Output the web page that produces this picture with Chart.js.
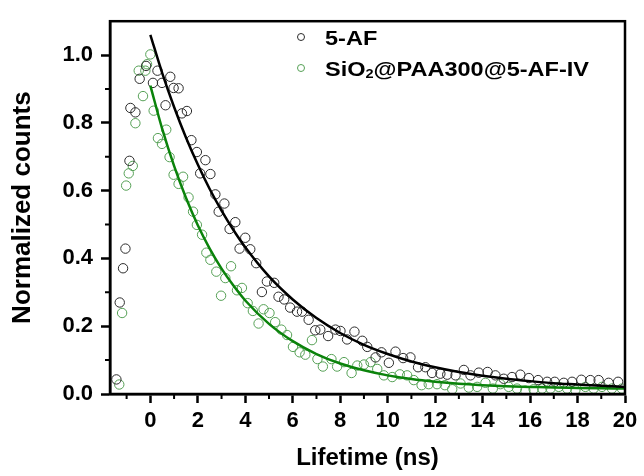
<!DOCTYPE html>
<html>
<head>
<meta charset="utf-8">
<script src="https://cdn.jsdelivr.net/npm/chart.js@4.4.0/dist/chart.umd.min.js"></script>
<style>
  html, body { margin: 0; padding: 0; background: #fff; }
  #wrap { width: 644px; height: 476px; position: relative; }
</style>
</head>
<body>
<div id="wrap"><canvas id="chart"></canvas></div>
<script>
// --- Data ---
const afX = [-1.43, -1.29, -1.15, -1.05, -0.88, -0.84, -0.63, -0.45, -0.18, 0.11, 0.30, 0.49, 0.64, 0.84, 0.98, 1.19, 1.33, 1.54, 1.73, 1.96,
  2.10, 2.32, 2.53, 2.74, 2.88, 3.12, 3.34, 3.58, 3.76, 4.00, 4.21, 4.46, 4.70, 4.91, 5.22, 5.40, 5.64, 5.89, 6.18, 6.39,
  6.67, 6.95, 7.16, 7.49, 7.80, 8.01, 8.29, 8.60, 8.93, 9.14, 9.49, 9.74, 10.05, 10.33, 10.65, 10.96, 11.28, 11.59, 11.87, 12.22,
  12.51, 12.86, 13.21, 13.49, 13.84, 14.21, 14.54, 14.89, 15.24, 15.59, 15.95, 16.34, 16.72, 17.04, 17.42, 17.77, 18.16, 18.54, 18.89, 19.31, 19.71];
const afY = [0.043, 0.270, 0.371, 0.429, 0.688, 0.844, 0.831, 0.930, 0.968, 0.918, 0.954, 0.918, 0.852, 0.936, 0.903, 0.902, 0.828, 0.835, 0.749, 0.714,
  0.651, 0.690, 0.649, 0.589, 0.538, 0.562, 0.487, 0.507, 0.429, 0.461, 0.427, 0.386, 0.301, 0.332, 0.328, 0.287, 0.279, 0.255, 0.243, 0.243,
  0.219, 0.188, 0.190, 0.171, 0.190, 0.186, 0.161, 0.184, 0.157, 0.139, 0.108, 0.123, 0.092, 0.125, 0.106, 0.108, 0.079, 0.079, 0.062, 0.060,
  0.057, 0.055, 0.071, 0.055, 0.063, 0.065, 0.055, 0.045, 0.050, 0.057, 0.047, 0.041, 0.036, 0.036, 0.033, 0.036, 0.042, 0.041, 0.041, 0.033, 0.036];

const siX = [-1.31, -1.19, -1.02, -0.91, -0.74, -0.63, -0.49, -0.31, -0.21, -0.14, 0.00, 0.14, 0.32, 0.49, 0.67, 0.81, 0.98, 1.19, 1.38, 1.61,
  1.80, 1.96, 2.18, 2.36, 2.53, 2.78, 2.98, 3.16, 3.40, 3.65, 3.86, 4.10, 4.32, 4.56, 4.77, 5.02, 5.26, 5.52, 5.76, 6.01,
  6.29, 6.53, 6.81, 7.04, 7.27, 7.63, 7.87, 8.16, 8.48, 8.72, 9.00, 9.28, 9.56, 9.84, 10.19, 10.51, 10.82, 11.10, 11.43, 11.73,
  12.08, 12.41, 12.72, 13.07, 13.42, 13.77, 14.12, 14.43, 14.75, 15.10, 15.45, 15.80, 16.15, 16.51, 16.86, 17.21, 17.56, 17.91, 18.33, 18.68, 19.03, 19.45, 19.87];
const siY = [0.028, 0.239, 0.615, 0.651, 0.673, 0.799, 0.954, 0.879, 0.954, 0.973, 1.002, 0.836, 0.755, 0.738, 0.780, 0.699, 0.647, 0.620, 0.641, 0.580,
  0.538, 0.499, 0.470, 0.417, 0.396, 0.361, 0.290, 0.342, 0.377, 0.306, 0.313, 0.268, 0.245, 0.208, 0.250, 0.239, 0.212, 0.190, 0.174, 0.139,
  0.123, 0.116, 0.159, 0.103, 0.081, 0.103, 0.081, 0.094, 0.062, 0.084, 0.087, 0.094, 0.074, 0.055, 0.050, 0.058, 0.055, 0.041, 0.026, 0.029,
  0.029, 0.026, 0.014, 0.031, 0.019, 0.021, 0.033, 0.016, 0.029, 0.021, 0.016, 0.010, 0.014, 0.016, 0.016, 0.021, 0.016, 0.012, 0.021, 0.016, 0.021, 0.016, 0.016];

// fitted decay curves, sampled along the drawn lines
const fitX = [0, 0.5, 1, 1.5, 2, 2.5, 3, 3.5, 4, 5, 6, 7, 8, 9, 10, 11, 12, 13, 14, 15, 16, 17, 18, 19, 20];
const afFit = [1.060, 0.947, 0.847, 0.757, 0.677, 0.605, 0.541, 0.484, 0.433, 0.347, 0.279, 0.224, 0.180, 0.145, 0.118, 0.096, 0.079, 0.065, 0.054, 0.045, 0.038, 0.032, 0.028, 0.024, 0.021];
const siFit = [0.910, 0.782, 0.673, 0.579, 0.498, 0.429, 0.370, 0.320, 0.276, 0.207, 0.156, 0.118, 0.090, 0.070, 0.055, 0.044, 0.036, 0.030, 0.026, 0.023, 0.021, 0.019, 0.018, 0.017, 0.016];

const xMajor = [0, 2, 4, 6, 8, 10, 12, 14, 16, 18, 20];
const xMinor = [-1, 1, 3, 5, 7, 9, 11, 13, 15, 17, 19];
const yMajor = [0, 0.2, 0.4, 0.6, 0.8, 1.0];
const yMinor = [0.1, 0.3, 0.5, 0.7, 0.9];

const seriesNames = ['5-AF', 'SiO2@PAA300@5-AF-IV'];
const ptBlack = '#2b2b2b';
const ptGreen = '#55a055';
const lnBlack = '#000000';
const lnGreen = '#0b830b';
const FONT = "'Liberation Sans', Arial, sans-serif";

const toPts = (xs, ys) => xs.map((x, i) => ({ x: x, y: ys[i] }));

// --- extra drawing: frame, minor ticks, legend ---
const decorPlugin = {
    id: 'decor',
    afterDraw(chart) {
        const { ctx, chartArea: a, scales } = chart;
        ctx.save();
        ctx.strokeStyle = '#000';
        ctx.lineWidth = 2.5;
        ctx.strokeRect(a.left, a.top, a.right - a.left, a.bottom - a.top);

        // minor ticks
        ctx.lineWidth = 2;
        ctx.beginPath();
        xMinor.forEach(v => {
            const px = scales.x.getPixelForValue(v);
            ctx.moveTo(px, a.bottom); ctx.lineTo(px, a.bottom + 5);
        });
        yMinor.forEach(v => {
            const py = scales.y.getPixelForValue(v);
            ctx.moveTo(a.left, py); ctx.lineTo(a.left - 5, py);
        });
        ctx.stroke();

        // legend
        const lx = 301, ly1 = 37, ly2 = 68, tx = 325;
        ctx.lineWidth = 1;
        ctx.strokeStyle = ptBlack;
        ctx.beginPath(); ctx.arc(lx, ly1, 3.5, 0, Math.PI * 2); ctx.stroke();
        ctx.strokeStyle = ptGreen;
        ctx.beginPath(); ctx.arc(lx, ly2, 3.5, 0, Math.PI * 2); ctx.stroke();

        // the original text is a little wide, so stretch it horizontally
        ctx.translate(tx, 0);
        ctx.scale(1.12, 1);
        ctx.fillStyle = '#000';
        ctx.textBaseline = 'alphabetic';
        ctx.textAlign = 'left';
        ctx.font = `bold 21px ${FONT}`;
        ctx.fillText(seriesNames[0], 0, ly1 + 7.5);
        let x = 0;
        ctx.fillText('SiO', x, ly2 + 7.5);
        x += ctx.measureText('SiO').width;
        ctx.font = `bold 13px ${FONT}`;
        ctx.fillText('2', x, ly2 + 10);
        x += ctx.measureText('2').width;
        ctx.font = `bold 21px ${FONT}`;
        ctx.fillText('@PAA300@5-AF-IV', x, ly2 + 7.5);
        ctx.restore();
    }
};

new Chart(document.getElementById('chart'), {
    type: 'scatter',
    data: {
        datasets: [
            { label: '5-AF fit', data: toPts(fitX, afFit), showLine: true, borderColor: lnBlack, borderWidth: 2.5, pointRadius: 0, cubicInterpolationMode: 'monotone' },
            { label: 'SiO2 fit', data: toPts(fitX, siFit), showLine: true, borderColor: lnGreen, borderWidth: 2.5, pointRadius: 0, cubicInterpolationMode: 'monotone' },
            { label: seriesNames[0], data: toPts(afX, afY), showLine: false, pointRadius: 4.7, pointBorderWidth: 1, pointBorderColor: ptBlack, pointBackgroundColor: 'rgba(0,0,0,0)' },
            { label: seriesNames[1], data: toPts(siX, siY), showLine: false, pointRadius: 4.7, pointBorderWidth: 1, pointBorderColor: ptGreen, pointBackgroundColor: 'rgba(0,0,0,0)' }
        ]
    },
    options: {
        responsive: true,
        maintainAspectRatio: false,
        animation: false,
        layout: { padding: { top: 14, right: 19, left: 0, bottom: 0 } },
        plugins: { legend: { display: false }, tooltip: { enabled: false } },
        scales: {
            x: {
                type: 'linear', min: -1.7, max: 20,
                afterFit: s => { s.height = 82; },
                afterBuildTicks: s => { s.ticks = xMajor.map(v => ({ value: v })); },
                grid: { drawOnChartArea: false, drawTicks: true, tickLength: 9, tickWidth: 2.5, tickColor: '#000' },
                border: { display: true, width: 2.5, color: '#000' },
                ticks: { color: '#000', padding: 5, maxRotation: 0, font: { family: FONT, size: 22, weight: 'bold' } },
                title: { display: true, text: 'Lifetime (ns)', color: '#000', padding: { top: 0, bottom: 3 }, font: { family: FONT, size: 24, weight: 'bold' } }
            },
            y: {
                type: 'linear', min: 0, max: 1.1,
                afterFit: s => { s.width = 110; },
                afterBuildTicks: s => { s.ticks = yMajor.map(v => ({ value: v })); },
                grid: { drawOnChartArea: false, drawTicks: true, tickLength: 9, tickWidth: 2.5, tickColor: '#000' },
                border: { display: true, width: 2.5, color: '#000' },
                ticks: { color: '#000', padding: 8, callback: v => v.toFixed(1), font: { family: FONT, size: 22, weight: 'bold' } },
                title: { display: true, text: 'Normalized counts', color: '#000', padding: { top: 7, bottom: 0 }, font: { family: FONT, size: 26, weight: 'bold' } }
            }
        }
    },
    plugins: [decorPlugin]
});
</script>
</body>
</html>
